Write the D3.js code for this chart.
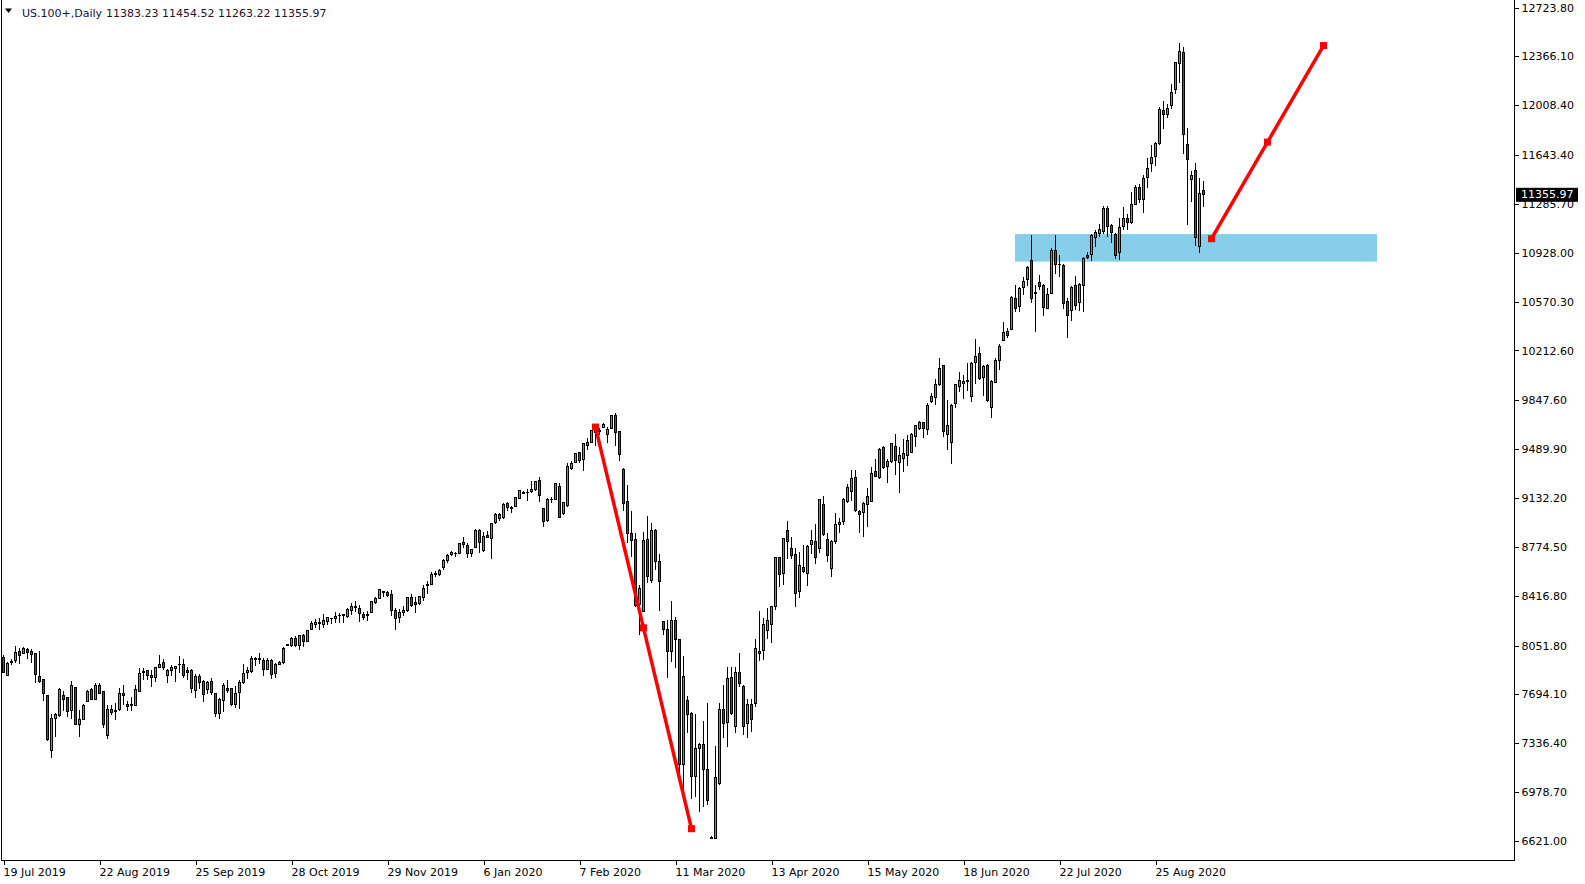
<!DOCTYPE html>
<html><head><meta charset="utf-8">
<script src="https://cdn.jsdelivr.net/npm/d3@7"></script>
<style>html,body{margin:0;padding:0;background:#fff;overflow:hidden}text{font-family:"DejaVu Sans",sans-serif;font-size:11px}</style>
</head><body>
<svg id="chart" width="1585" height="884"></svg>
<script>
const symbolName = 'US.100+,Daily';
const lastOHLC = ['11383.23', '11454.52', '11263.22', '11355.97'];

const open = [
7966,7836,7927,7941,8012,7995,8024,8007,7995,7824,
7800,7688,7287,7517,7539,7683,7673,7573,7746,7475,
7512,7646,7727,7658,7756,7719,7395,7587,7580,7585,
7702,7617,7612,7614,7719,7854,7866,7836,7817,7890,
7929,7834,7871,7883,7910,7915,7866,7873,7722,7829,
7792,7731,7792,7702,7556,7648,7739,7734,7617,7707,
7780,7854,7861,7951,7953,7946,7878,7946,7849,7915,
7929,8056,8051,8105,8056,8122,8080,8173,8207,8219,
8207,8227,8251,8249,8270,8274,8264,8307,8330,8325,
8276,8271,8295,8366,8398,8440,8442,8427,8312,8259,
8295,8307,8405,8368,8361,8405,8494,8500,8573,8573,
8622,8674,8720,8727,8727,8805,8788,8727,8769,8898,
8747,8856,8837,8952,9008,8988,9093,9060,9069,9128,
9176,9172,9179,9191,9264,9052,8966,9122,9125,9220,
9020,9074,9345,9391,9464,9416,9518,9538,9623,9630,
9650,9594,9642,9740,9618,9342,9110,8874,8825,8354,
8300,8830,8532,8891,8666,8227,8171,8007,8239,8093,
7182,7653,7551,7092,7299,7331,7146,6650,6640,7043,
7585,7490,7819,7458,7856,7751,7483,7617,7629,8012,
8015,8161,8207,8337,8696,8576,8898,8764,8720,8447,
8622,8581,8793,8813,8764,9088,8825,8617,8813,8940,
8959,9106,9179,9284,9037,9025,9086,9110,9330,9281,
9501,9362,9398,9508,9391,9423,9447,9467,9586,9643,
9684,9635,9838,9867,9965,10099,9599,9538,9826,9952,
9972,9990,9879,10123,10192,10016,10099,9796,9979,10136,
10289,10355,10367,10594,10533,10675,10729,10868,10631,10711,
10689,10521,10631,10948,10845,10838,10570,10502,10689,10565,
10687,10909,10916,11041,11070,11087,11253,11124,11065,10931,
11119,11180,11148,11282,11407,11319,11478,11583,11632,11729,
11968,11944,12005,12120,12315,12393,11724,11466,11527,10973,
11383.23];

const high = [
7983,7929,7951,8049,8032,8044,8032,8024,8000,8012,
7805,7692,7548,7556,7739,7722,7678,7793,7751,7580,
7622,7727,7739,7775,7780,7722,7617,7617,7629,7739,
7763,7646,7673,7763,7890,7885,7873,7873,7897,7983,
7951,7880,7910,7905,7976,7951,7897,7880,7841,7841,
7800,7792,7817,7707,7666,7775,7800,7739,7758,7800,
7915,7897,7976,7966,7995,7958,7958,7951,7922,7941,
8044,8061,8117,8124,8129,8134,8166,8234,8244,8251,
8283,8264,8256,8295,8288,8283,8325,8361,8378,8349,
8300,8305,8381,8410,8464,8454,8454,8459,8325,8320,
8342,8410,8427,8410,8417,8495,8525,8593,8600,8610,
8683,8720,8744,8739,8805,8849,8800,8759,8903,8905,
8886,8891,8952,9020,9020,9093,9106,9074,9142,9191,
9186,9196,9259,9257,9284,9057,9135,9142,9240,9240,
9106,9386,9406,9464,9472,9538,9569,9630,9642,9642,
9679,9655,9740,9757,9623,9350,9228,9037,8874,8495,
8886,9000,8952,8903,8722,8234,8239,8378,8263,8098,
7975,7683,7568,7551,7336,7500,7634,6657,7316,7634,
7763,7897,7893,7893,8000,7763,7658,7658,8100,8305,
8251,8325,8342,8703,8703,8842,8966,8844,8764,8739,
8788,8788,8898,8942,9122,9147,8879,8825,9025,8988,
9130,9235,9337,9337,9045,9106,9203,9362,9416,9501,
9513,9416,9538,9601,9508,9564,9594,9606,9667,9696,
9691,9826,9899,10001,10160,10106,9850,9818,9970,10057,
10033,10118,10131,10294,10236,10106,10111,9996,10160,10260,
10419,10380,10611,10692,10680,10753,10831,11058,10692,10765,
10699,10672,10960,11058,10911,10845,10594,10685,10758,10704,
10895,10931,11065,11095,11139,11270,11270,11136,11075,11185,
11265,11209,11375,11424,11431,11497,11624,11717,11741,11993,
12042,12017,12164,12327,12461,12432,11839,11527,11583,11473,
11454.52];

const low = [
7849,7832,7910,7922,7915,7988,7951,7927,7780,7775,
7649,7356,7226,7385,7531,7575,7531,7512,7470,7385,
7507,7636,7653,7653,7695,7446,7368,7544,7507,7575,
7617,7573,7575,7609,7714,7800,7800,7746,7788,7885,
7873,7775,7829,7788,7849,7812,7800,7702,7666,7731,
7641,7697,7690,7526,7512,7568,7702,7612,7597,7585,
7768,7805,7854,7905,7917,7832,7873,7805,7817,7910,
7917,8051,8044,8044,8019,8044,8075,8166,8178,8166,
8178,8202,8210,8220,8220,8215,8251,8276,8300,8227,
8239,8234,8288,8356,8393,8410,8410,8271,8166,8220,
8271,8300,8337,8293,8349,8381,8429,8495,8556,8564,
8605,8659,8710,8703,8722,8764,8691,8703,8764,8732,
8739,8837,8683,8942,8964,8979,9037,9020,9064,9123,
9159,9113,9171,9186,9106,8922,8959,9093,9118,8984,
9008,9069,9337,9386,9386,9330,9484,9533,9513,9594,
9642,9533,9635,9515,9403,9040,8805,8703,8332,8129,
8295,8508,8508,8605,8307,8129,7812,7929,7890,7055,
6946,7409,6926,6946,6831,6872,6884,6633,6633,7031,
7373,7307,7544,7409,7746,7397,7373,7421,7605,7941,
7946,8100,8068,8312,8483,8495,8683,8686,8337,8398,
8581,8488,8722,8649,8732,8857,8666,8556,8796,8874,
8935,9093,9113,9027,8874,8844,8923,9106,9284,9269,
9345,9240,9391,9301,9171,9320,9369,9459,9503,9630,
9569,9594,9830,9813,9955,9582,9484,9379,9794,9911,
9857,9916,9838,9967,9996,9879,9838,9721,9972,10070,
10280,10306,10362,10497,10497,10619,10685,10558,10350,10655,
10467,10516,10626,10772,10753,10516,10301,10428,10509,10502,
10497,10882,10870,10973,11041,11065,11041,11000,10882,10875,
11095,11095,11139,11278,11290,11217,11400,11522,11566,11717,
11832,11912,11981,12088,12169,11651,11131,11302,10977,10929,
11263.22];

const close = [
7853,7922,7937,8002,7978,8032,8002,7988,7841,7788,
7702,7365,7519,7548,7727,7658,7568,7756,7475,7512,
7614,7719,7658,7756,7702,7475,7585,7563,7568,7702,
7685,7605,7624,7727,7849,7861,7832,7817,7892,7910,
7890,7866,7893,7900,7915,7834,7854,7739,7822,7783,
7695,7783,7710,7556,7658,7763,7722,7617,7702,7783,
7849,7873,7958,7958,7954,7878,7946,7841,7915,7927,
8032,8058,8105,8051,8122,8080,8161,8215,8220,8210,
8234,8259,8252,8268,8272,8276,8317,8337,8337,8288,
8259,8276,8378,8398,8459,8447,8417,8307,8251,8295,
8312,8403,8344,8354,8410,8471,8496,8573,8581,8598,
8674,8708,8732,8728,8800,8793,8727,8752,8898,8805,
8854,8846,8947,9008,8984,9088,9062,9058,9137,9184,
9166,9170,9191,9252,9149,8959,9125,9118,9235,8991,
9101,9362,9386,9459,9406,9528,9538,9623,9615,9621,
9667,9635,9733,9611,9452,9093,8874,8820,8344,8471,
8818,8556,8891,8666,8520,8171,8007,8239,8093,7182,
7829,7548,7092,7299,7331,7146,6921,6640,7087,7585,
7482,7812,7551,7856,7775,7458,7622,7512,8032,7995,
8203,8234,8337,8698,8574,8837,8813,8710,8434,8635,
8593,8776,8818,8696,9118,8866,8710,8813,8935,8952,
9118,9211,9276,9040,9015,9093,9147,9313,9289,9491,
9355,9403,9528,9406,9440,9459,9550,9594,9660,9686,
9638,9813,9879,9960,10082,9618,9660,9813,9965,9996,
9989,9988,10118,10172,10009,10094,9845,9984,10136,10245,
10345,10321,10599,10521,10668,10721,10821,10594,10638,10680,
10528,10624,10948,10843,10841,10558,10467,10675,10541,10697,
10887,10892,11051,11075,11095,11253,11119,11075,10907,11114,
11180,11148,11285,11407,11319,11473,11546,11627,11729,11978,
11942,11983,12100,12320,12405,11795,11612,11497,11038,11363,
11355.97];

const xTickBars = [0,24,48,72,96,120,144,168,192,216,240,264,288];
const xTickLabels = ['19 Jul 2019','22 Aug 2019','25 Sep 2019','28 Oct 2019','29 Nov 2019','6 Jan 2020','7 Feb 2020','11 Mar 2020','13 Apr 2020','15 May 2020','18 Jun 2020','22 Jul 2020','25 Aug 2020'];
const yTickValues = [12723.80,12366.10,12008.40,11643.40,11285.70,10928.00,10570.30,10212.60,9847.60,9489.90,9132.20,8774.50,8416.80,8051.80,7694.10,7336.40,6978.70,6621.00];

const zoneBars = [253, 343.5];
const zonePrices = [10863, 11065];
const drop = [[148, 9652], [160, 8181.5], [172, 6711]];
const projection = [[302, 11031], [316, 11738], [330, 12445]];

const svg = d3.select('#chart');
const x = d3.scaleLinear().domain([0, 300]).range([3.5, 1203.5]);
const y = d3.scaleLinear().domain([6621, 12723.8]).range([841, 7.5]);

// support zone
svg.append('rect')
  .attr('x', x(zoneBars[0]) - 0.5)
  .attr('width', x(zoneBars[1]) - x(zoneBars[0]))
  .attr('y', y(zonePrices[1]))
  .attr('height', y(zonePrices[0]) - y(zonePrices[1]))
  .attr('fill', '#87ceeb');

// candles
const bars = d3.range(open.length).map(i => ({i, o: open[i], h: high[i], l: low[i], c: close[i]}));
const cg = svg.append('g').attr('shape-rendering', 'crispEdges');
cg.selectAll('line.wick').data(bars).join('line')
  .attr('x1', d => x(d.i)).attr('x2', d => x(d.i))
  .attr('y1', d => y(Math.max(d.h, d.o, d.c)))
  .attr('y2', d => y(Math.min(d.l, d.o, d.c)))
  .attr('stroke', '#000').attr('stroke-width', 1);
cg.selectAll('rect.body').data(bars).join('rect')
  .attr('x', d => x(d.i) - 1).attr('width', 2)
  .attr('y', d => y(Math.max(d.o, d.c)))
  .attr('height', d => Math.abs(y(d.o) - y(d.c)))
  .attr('fill', d => d.c >= d.o ? '#1ed21e' : '#d21e1e')
  .attr('stroke', '#000').attr('stroke-width', 1);

// red drawn lines
const line = d3.line().x(d => x(d[0])).y(d => y(d[1]));
[drop, projection].forEach(pts => {
  svg.append('path').attr('d', line(pts)).attr('fill', 'none')
    .attr('stroke', '#ff0000').attr('stroke-width', 3.5);
  svg.selectAll(null).data(pts).join('rect')
    .attr('x', d => x(d[0]) - 3.5).attr('y', d => y(d[1]) - 3.5)
    .attr('width', 7).attr('height', 7).attr('fill', '#ff0000');
});

// frame
const fg = svg.append('g').attr('shape-rendering', 'crispEdges').attr('stroke', '#000');
fg.append('line').attr('x1', 1.5).attr('x2', 1.5).attr('y1', 0).attr('y2', 861);
fg.append('line').attr('x1', 1).attr('x2', 1515).attr('y1', 860.5).attr('y2', 860.5);
fg.append('line').attr('x1', 1514.5).attr('x2', 1514.5).attr('y1', 0).attr('y2', 861);

// y axis
const ya = svg.append('g').attr('transform', 'translate(1514.5,0)')
  .call(d3.axisRight(y).tickValues(yTickValues).tickSize(4).tickPadding(3).tickFormat(d3.format('.2f')));
ya.select('.domain').remove();
ya.selectAll('line').attr('shape-rendering', 'crispEdges').attr('stroke', '#000');
ya.selectAll('text').attr('font-family', 'DejaVu Sans').attr('font-size', 11).attr('fill', '#000');

// x axis
const xa = svg.append('g').attr('transform', 'translate(0,860.5)')
  .call(d3.axisBottom(x).tickValues(xTickBars).tickSize(4).tickFormat((d, i) => xTickLabels[i]));
xa.select('.domain').remove();
xa.selectAll('line').attr('shape-rendering', 'crispEdges').attr('stroke', '#000');
xa.selectAll('text').attr('font-family', 'DejaVu Sans').attr('font-size', 11).attr('fill', '#000')
  .attr('text-anchor', 'start').attr('x', -0.5).attr('y', 15.5).attr('dy', 0);

// last price tag
const lastY = y(close[close.length - 1]);
svg.append('rect').attr('x', 1516).attr('y', lastY - 6.5).attr('width', 62).attr('height', 14).attr('fill', '#000');
svg.append('text').attr('x', 1521).attr('y', lastY).attr('dy', '0.36em').attr('fill', '#fff')
  .text(d3.format('.2f')(close[close.length - 1]));

// header
svg.append('path').attr('d', 'M5,8.5 L12,8.5 L8.5,13 Z').attr('fill', '#000');
svg.append('text').attr('x', 22).attr('y', 16.5).attr('fill', '#10104a').text(symbolName);
svg.append('text').attr('x', 106).attr('y', 16.5).attr('fill', '#2a1030').text(lastOHLC.join(' '));
</script>
</body></html>
